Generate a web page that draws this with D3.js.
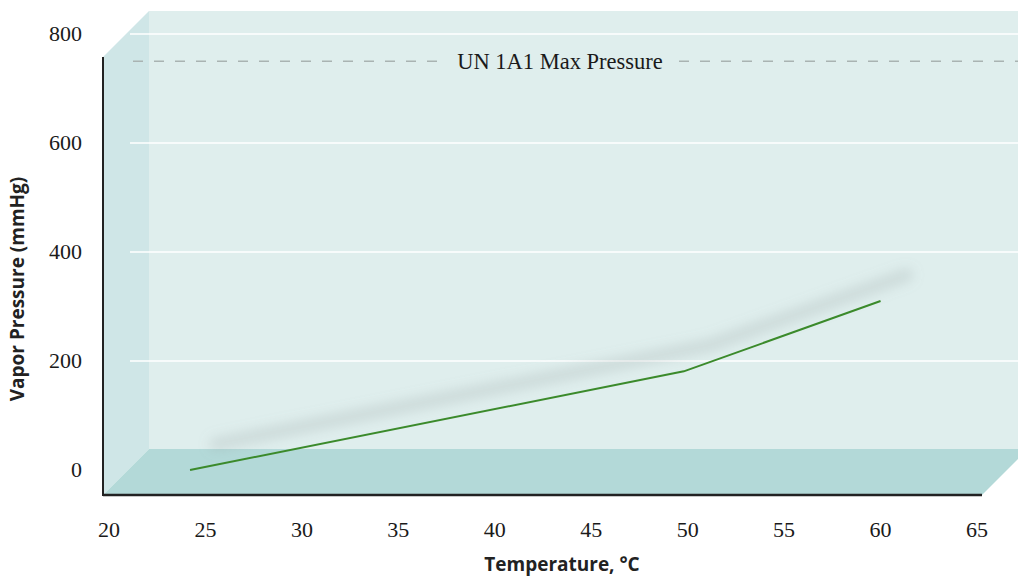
<!DOCTYPE html>
<html>
<head>
<meta charset="utf-8">
<script src="https://cdn.jsdelivr.net/npm/d3@7"></script>
<style>
  body { margin: 0; background: #fff; }
  svg { display: block; }
</style>
</head>
<body>
<div id="chart"></div>
<script>
// vapor pressure curve
const temperature = [24.2, 49.8, 60]
const pressure = [0, 181, 310]

const xTicks = [20, 25, 30, 35, 40, 45, 50, 55, 60, 65]
const yTicks = [0, 200, 400, 600, 800]

const limitValue = 750
const limitLabel = 'UN 1A1 Max Pressure'

const width = 1018
const height = 578

// box faces: front plane and how far back the walls go
const front = { left: 103, right: 982, top: 57, bottom: 495 }
const depth = 46

const x = d3.scaleLinear().domain([20, 65]).range([109, 977])
const y = d3.scaleLinear().domain([0, 800]).range([470, 34])

const svg = d3.select('#chart').append('svg')
  .attr('width', width)
  .attr('height', height)

const defs = svg.append('defs')
defs.append('filter')
  .attr('id', 'blur')
  .attr('x', '-10%').attr('y', '-50%')
  .attr('width', '120%').attr('height', '200%')
  .append('feGaussianBlur')
  .attr('stdDeviation', 6)

const poly = pts => 'M' + pts.map(p => p.join(',')).join('L') + 'Z'

// back wall
svg.append('rect')
  .attr('x', front.left + depth)
  .attr('y', front.top - depth)
  .attr('width', width - front.left - depth)
  .attr('height', front.bottom - front.top)
  .attr('fill', '#dfeeed')

// left wall
svg.append('path')
  .attr('d', poly([
    [front.left, front.top],
    [front.left + depth, front.top - depth],
    [front.left + depth, front.bottom - depth],
    [front.left, front.bottom]
  ]))
  .attr('fill', '#cfe6e7')

// floor
svg.append('path')
  .attr('d', poly([
    [front.left, front.bottom],
    [front.left + depth, front.bottom - depth],
    [front.right + depth, front.bottom - depth],
    [front.right, front.bottom]
  ]))
  .attr('fill', '#b3d9d8')

// gridlines
svg.append('g')
  .selectAll('line')
  .data(yTicks.filter(d => d > 0))
  .join('line')
  .attr('x1', 130)
  .attr('x2', width)
  .attr('y1', d => y(d))
  .attr('y2', d => y(d))
  .attr('stroke', '#fff')
  .attr('stroke-width', 1.5)

// limit line with label
const limit = svg.append('g')
limit.append('line')
  .attr('x1', 133)
  .attr('x2', width)
  .attr('y1', y(limitValue))
  .attr('y2', y(limitValue))
  .attr('stroke', '#a9b3b2')
  .attr('stroke-width', 1.5)
  .attr('stroke-dasharray', '10,11')

const labelText = limit.append('text')
  .attr('x', 560)
  .attr('y', y(limitValue) + 8)
  .attr('text-anchor', 'middle')
  .attr('font-family', '"Liberation Serif", serif')
  .attr('font-size', 22.5)
  .attr('fill', '#1a1a1a')
  .text(limitLabel)

const bb = labelText.node().getBBox()
limit.insert('rect', 'text')
  .attr('x', bb.x - 14)
  .attr('y', y(limitValue) - 4)
  .attr('width', bb.width + 28)
  .attr('height', 8)
  .attr('fill', '#dfeeed')

// series
const points = temperature.map((t, i) => [t, pressure[i]])
const line = d3.line()
  .x(d => x(d[0]))
  .y(d => y(d[1]))

svg.append('path')
  .datum(points)
  .attr('d', line)
  .attr('transform', `translate(${depth / 2 + 3},${-depth / 2 - 3})`)
  .attr('fill', 'none')
  .attr('stroke', '#8e9c9a')
  .attr('stroke-opacity', 0.22)
  .attr('stroke-width', 14)
  .attr('stroke-linecap', 'round')
  .attr('filter', 'url(#blur)')

svg.append('path')
  .datum(points)
  .attr('d', line)
  .attr('fill', 'none')
  .attr('stroke', '#3b8a2b')
  .attr('stroke-width', 2)

// axis lines
svg.append('line')
  .attr('x1', front.left).attr('x2', front.left)
  .attr('y1', front.top).attr('y2', front.bottom + 1)
  .attr('stroke', '#222')
  .attr('stroke-width', 2)

svg.append('line')
  .attr('x1', front.left).attr('x2', front.right)
  .attr('y1', front.bottom).attr('y2', front.bottom)
  .attr('stroke', '#222')
  .attr('stroke-width', 2.5)

// tick labels
svg.append('g')
  .selectAll('text')
  .data(yTicks)
  .join('text')
  .attr('x', 82)
  .attr('y', d => y(d) + 7)
  .attr('text-anchor', 'end')
  .attr('font-family', '"Liberation Serif", serif')
  .attr('font-size', 22)
  .attr('fill', '#1a1a1a')
  .text(d => d)

svg.append('g')
  .selectAll('text')
  .data(xTicks)
  .join('text')
  .attr('x', d => x(d))
  .attr('y', 537)
  .attr('text-anchor', 'middle')
  .attr('font-family', '"Liberation Serif", serif')
  .attr('font-size', 22)
  .attr('fill', '#1a1a1a')
  .text(d => d)

// axis titles
svg.append('text')
  .attr('x', 562)
  .attr('y', 571)
  .attr('text-anchor', 'middle')
  .attr('font-family', '"Open Sans", sans-serif')
  .attr('font-weight', 700)
  .attr('font-size', 19)
  .attr('fill', '#222')
  .text('Temperature, °C')

svg.append('text')
  .attr('transform', 'translate(24,289) rotate(-90)')
  .attr('text-anchor', 'middle')
  .attr('font-family', '"Open Sans", sans-serif')
  .attr('font-weight', 700)
  .attr('font-size', 19)
  .attr('fill', '#222')
  .text('Vapor Pressure (mmHg)')
</script>
</body>
</html>
